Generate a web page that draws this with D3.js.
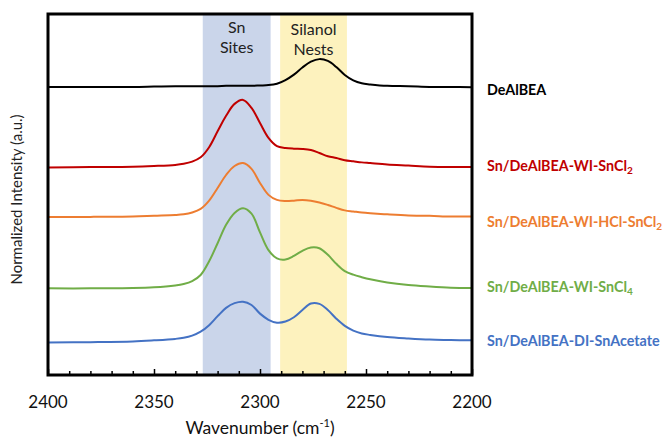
<!DOCTYPE html>
<html>
<head>
<meta charset="utf-8">
<script src="https://cdn.jsdelivr.net/npm/d3@7"></script>
<style>
	html, body { margin: 0; padding: 0; background: #fff; }
	svg { display: block; font-family: Lato, "Open Sans", sans-serif; }
</style>
</head>
<body>
<svg id="chart" width="663" height="438"></svg>
<script>
// --------- Data --------- //
var wavenumbers = [2400, 2380, 2360, 2350, 2340, 2336, 2332, 2328, 2324, 2320, 2316, 2312, 2308, 2304, 2300, 2296,
	2292, 2288, 2284, 2280, 2276, 2272, 2268, 2264, 2260, 2256, 2252, 2248, 2240, 2230, 2220, 2210, 2200];

var seriesNames = ["DeAlBEA", "Sn/DeAlBEA-WI-SnCl2", "Sn/DeAlBEA-WI-HCl-SnCl2", "Sn/DeAlBEA-WI-SnCl4", "Sn/DeAlBEA-DI-SnAcetate"];
var seriesColors = ["#000000", "#C00000", "#ED7D31", "#70AD47", "#4472C4"];
// vertical offsets of the stacked spectra (a.u.)
var seriesOffsets = [8.0, 5.75, 4.4, 2.4, 0.9];

var deAlBEA = [-0.02, -0.02, -0.02, -0.01, 0, 0, 0, 0, 0, 0, 0.01, 0.01, 0.01, 0.01, 0.02, 0.03,
	0.07, 0.17, 0.32, 0.52, 0.68, 0.75, 0.70, 0.53, 0.31, 0.16, 0.08, 0.05, 0.01, 0, -0.02, -0.02, -0.03];
var wiSnCl2 = [0, 0.01, 0.02, 0.04, 0.07, 0.10, 0.16, 0.28, 0.56, 1.00, 1.43, 1.76, 1.87, 1.65, 1.23, 0.82,
	0.59, 0.54, 0.52, 0.51, 0.48, 0.40, 0.31, 0.26, 0.20, 0.17, 0.14, 0.12, 0.08, 0.05, 0.02, 0.01, 0.01];
var wiHclSnCl2 = [-0.02, -0.02, -0.01, 0.01, 0.03, 0.05, 0.10, 0.20, 0.43, 0.78, 1.14, 1.39, 1.47, 1.31, 0.92, 0.59,
	0.45, 0.42, 0.43, 0.45, 0.43, 0.38, 0.31, 0.23, 0.16, 0.13, 0.10, 0.08, 0.05, 0.02, 0.01, -0.01, -0.01];
var wiSnCl4 = [0, 0, 0.01, 0.03, 0.08, 0.12, 0.20, 0.37, 0.75, 1.25, 1.76, 2.09, 2.22, 2.07, 1.55, 1.06,
	0.83, 0.80, 0.90, 1.04, 1.13, 1.11, 0.93, 0.68, 0.48, 0.38, 0.31, 0.25, 0.16, 0.09, 0.05, 0.02, 0.01];
var diSnAcetate = [0, 0.01, 0.03, 0.06, 0.10, 0.13, 0.19, 0.30, 0.48, 0.73, 0.96, 1.09, 1.13, 1.04, 0.80, 0.63,
	0.55, 0.58, 0.70, 0.90, 1.08, 1.07, 0.90, 0.66, 0.46, 0.33, 0.25, 0.21, 0.15, 0.11, 0.08, 0.07, 0.06];

var seriesValues = [deAlBEA, wiSnCl2, wiHclSnCl2, wiSnCl4, diSnAcetate];

// shaded regions [from, to] in cm-1
var bandRanges = [[2327, 2295], [2290.5, 2259]];
var bandLabels = [["Sn", "Sites"], ["Silanol", "Nests"]];
var bandColors = ["#CAD5EA", "#FDF2BE"];

var xTickValues = [2400, 2350, 2300, 2250, 2200];
// --------- /Data --------- //


// --------- Chart --------- //
var svg = d3.select("#chart");
var margin = {left: 48, right: 191, top: 14, bottom: 63};
var width = 663 - margin.left - margin.right;
var height = 438 - margin.top - margin.bottom;

var x = d3.scaleLinear().domain([2400, 2200]).range([margin.left, margin.left + width]);
var y = d3.scaleLinear().domain([0, 10]).range([margin.top + height, margin.top]);

// bands
var bands = svg.append("g").attr("class", "bands");
bandRanges.forEach(function(r, i){
	bands.append("rect")
		.attr("x", x(r[0]))
		.attr("y", margin.top)
		.attr("width", x(r[1]) - x(r[0]))
		.attr("height", height)
		.attr("fill", bandColors[i]);

	var cx = (x(r[0]) + x(r[1])) / 2;
	bands.append("text")
		.attr("x", cx)
		.attr("y", margin.top + 19 + (i ? 2 : 0))
		.attr("text-anchor", "middle")
		.attr("font-size", 16)
		.attr("fill", "#222")
		.text(bandLabels[i][0]);
	bands.append("text")
		.attr("x", cx)
		.attr("y", margin.top + 39 + (i ? 2 : 0))
		.attr("text-anchor", "middle")
		.attr("font-size", 16)
		.attr("fill", "#222")
		.text(bandLabels[i][1]);
});

// spectra
var line = d3.line()
	.x(function(d){ return x(d[0]); })
	.y(function(d){ return y(d[1]); })
	.curve(d3.curveCatmullRom.alpha(0.5));

var lines = svg.append("g").attr("class", "lines");
seriesValues.forEach(function(vals, i){
	var pts = wavenumbers.map(function(w, j){
		return [w, seriesOffsets[i] + vals[j]];
	});
	lines.append("path")
		.datum(pts)
		.attr("d", line)
		.attr("fill", "none")
		.attr("stroke", seriesColors[i])
		.attr("stroke-width", 2);
});

// x axis: ticks pointing inward (upward)
var xAxis = svg.append("g")
	.attr("transform", "translate(0," + (margin.top + height) + ")")
	.call(d3.axisBottom(x).tickValues(d3.range(2400, 2199, -10)).tickSizeInner(-4).tickSizeOuter(0).tickFormat(""));
xAxis.select(".domain").remove();
xAxis.selectAll(".tick line").attr("stroke", "#000").attr("stroke-width", 1.5)
	.attr("y2", function(d){ return d % 50 === 0 ? -6 : -4; });

svg.append("g")
	.selectAll("text")
	.data(xTickValues)
	.join("text")
	.attr("x", function(d){ return x(d); })
	.attr("y", margin.top + height + 33)
	.attr("text-anchor", "middle")
	.attr("font-size", 17)
	.attr("fill", "#111")
	.text(function(d){ return d; });

// frame
svg.append("rect")
	.attr("x", margin.left)
	.attr("y", margin.top)
	.attr("width", width)
	.attr("height", height)
	.attr("fill", "none")
	.attr("stroke", "#000")
	.attr("stroke-width", 3);

// axis titles
var xTitle = svg.append("text")
	.attr("x", margin.left + width / 2)
	.attr("y", 434)
	.attr("text-anchor", "middle")
	.attr("font-size", 17.5)
	.attr("fill", "#111");
xTitle.append("tspan").text("Wavenumber (cm");
xTitle.append("tspan").attr("font-size", 11).attr("dy", -7).text("-1");
xTitle.append("tspan").attr("dy", 7).text(")");

svg.append("text")
	.attr("transform", "translate(22," + (margin.top + height / 2 + 5) + ") rotate(-90)")
	.attr("text-anchor", "middle")
	.attr("font-size", 15)
	.attr("fill", "#222")
	.text("Normalized Intensity (a.u.)");

// series labels at right
var labelY = [95, 171, 227, 292, 346];
var labels = svg.append("g").attr("class", "labels");
seriesNames.forEach(function(name, i){
	var t = labels.append("text")
		.attr("x", 487)
		.attr("y", labelY[i])
		.attr("font-size", 14.3)
		.attr("font-weight", "bold")
		.attr("fill", seriesColors[i]);
	var m = name.match(/^(.*?)(\d)$/);
	if (m && name.indexOf("SnCl") >= 0){
		t.append("tspan").text(m[1]);
		t.append("tspan").attr("font-size", 10).attr("dy", 3).text(m[2]);
	}else{
		t.text(name);
	}
});
// --------- /Chart --------- //
</script>
</body>
</html>
